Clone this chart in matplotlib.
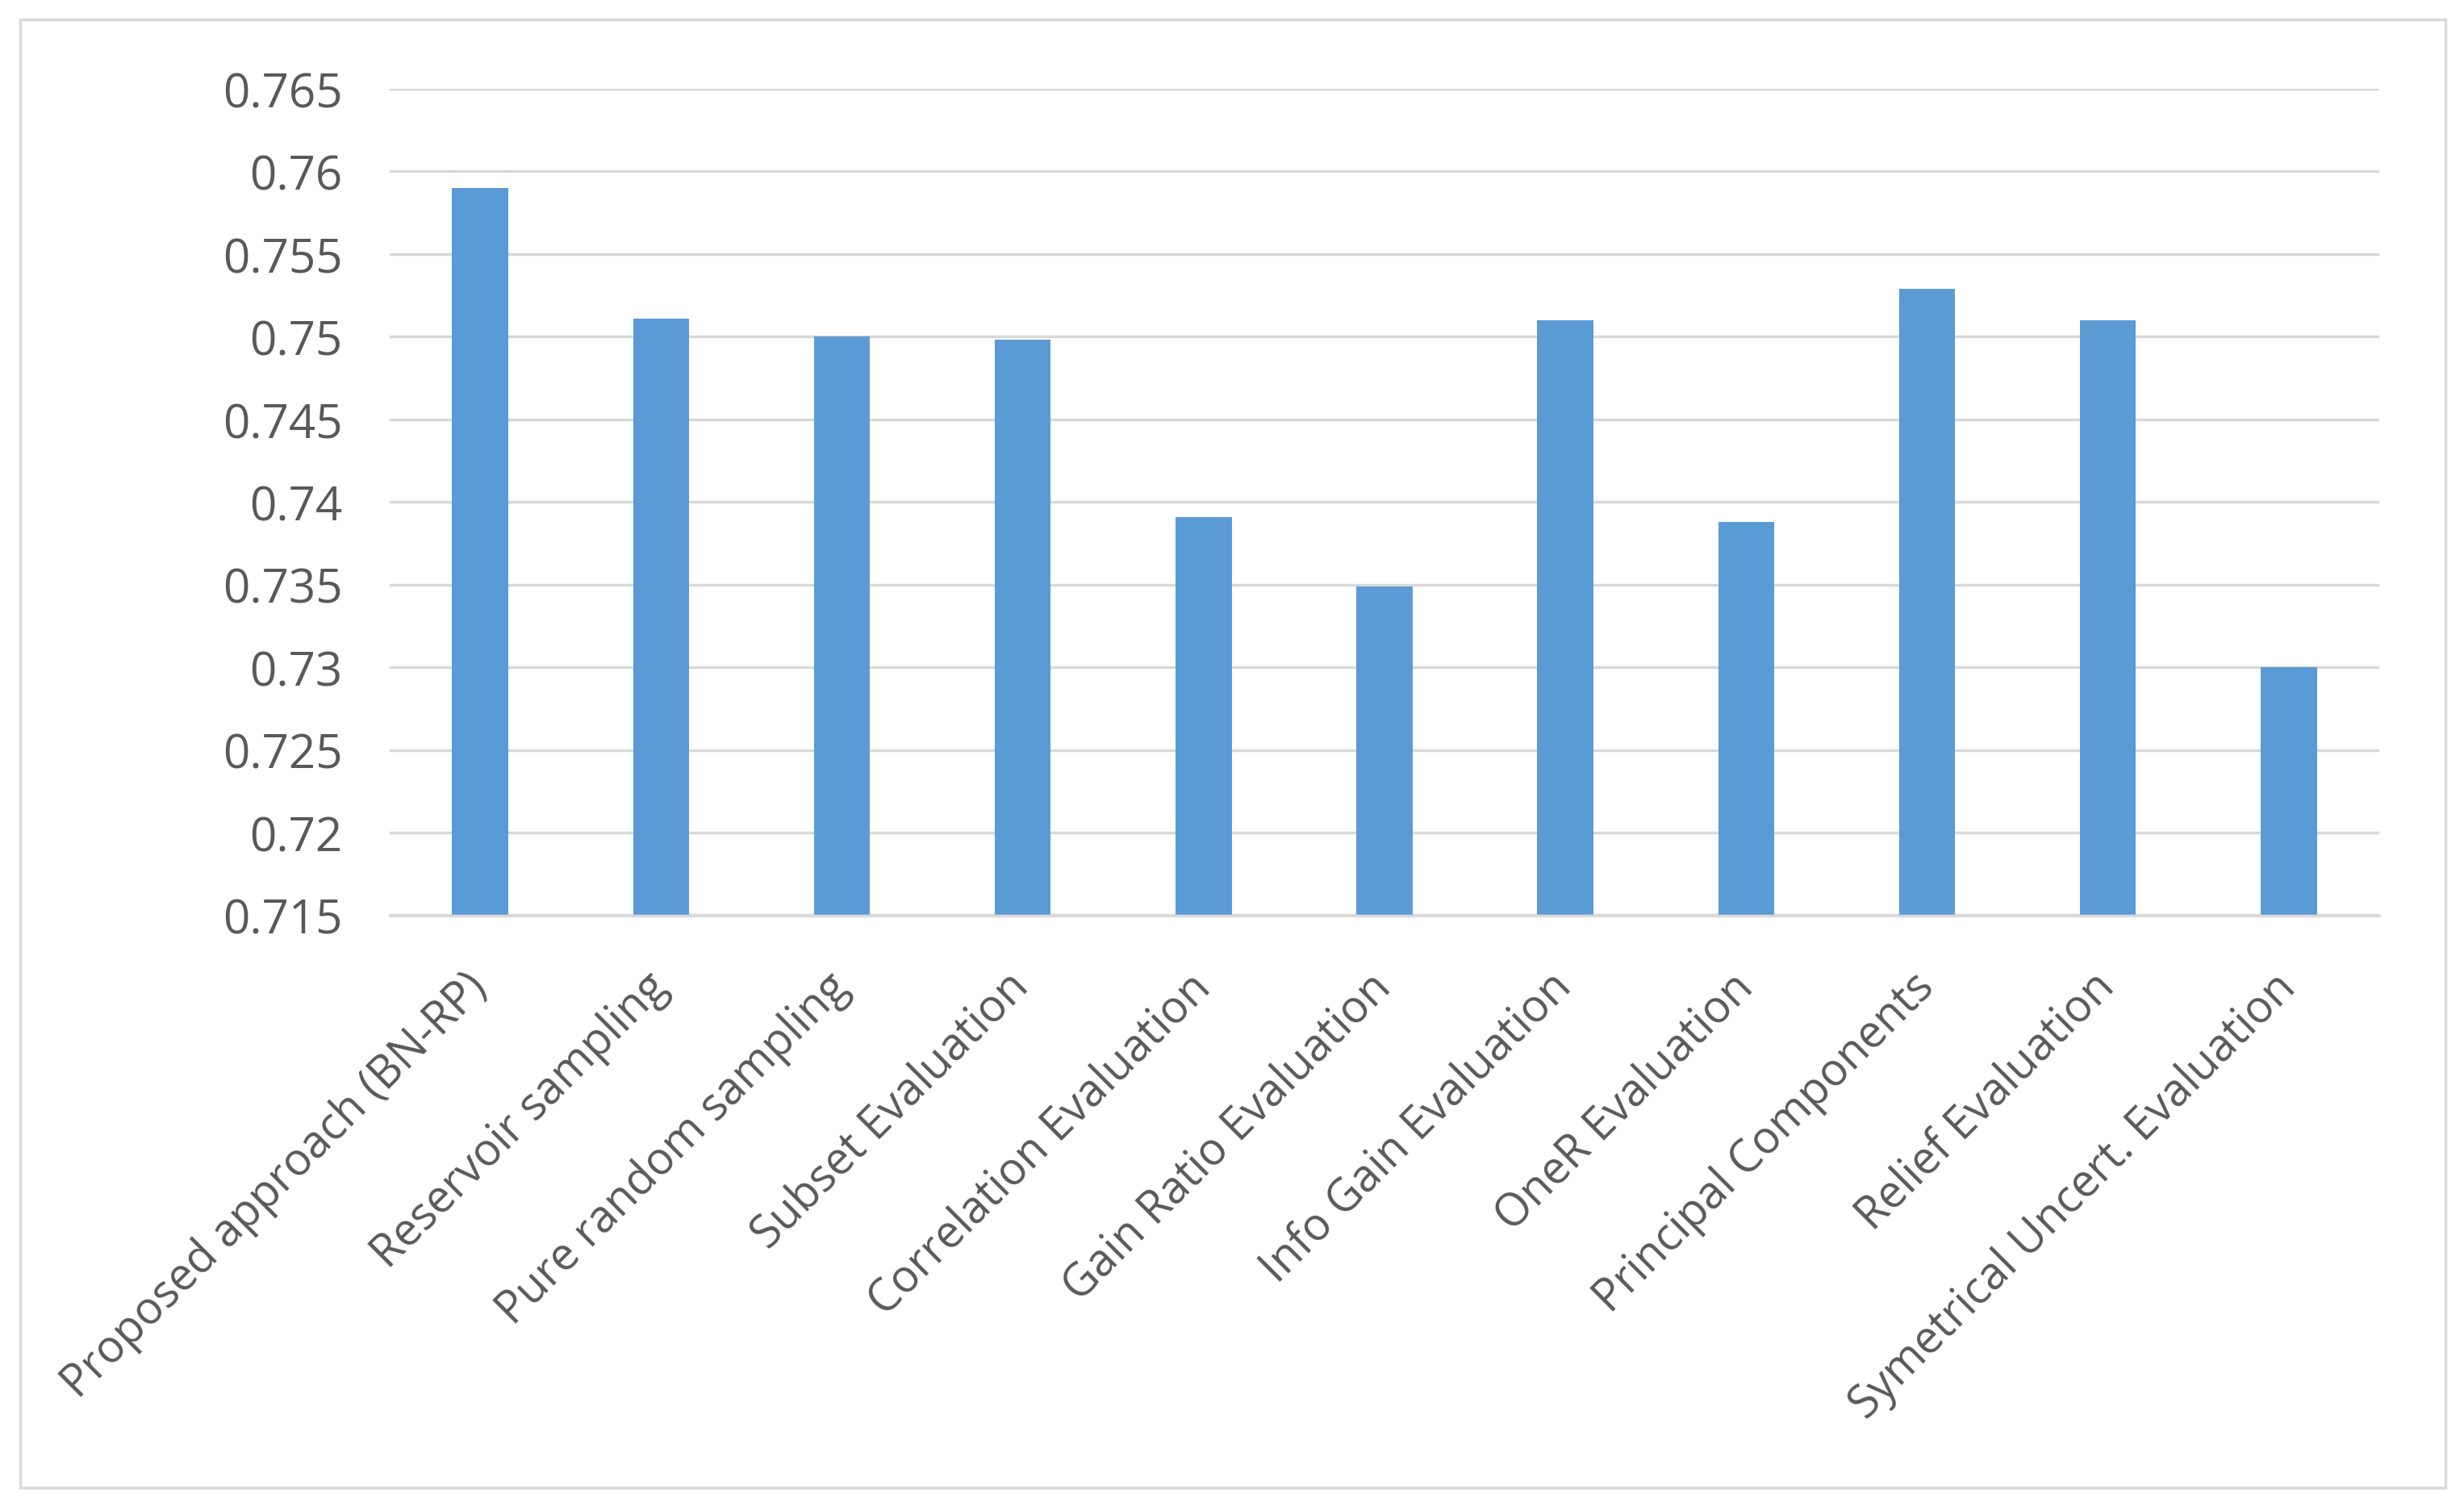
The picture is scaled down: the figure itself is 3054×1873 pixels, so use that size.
import matplotlib
matplotlib.use("Agg")
import matplotlib.pyplot as plt
from matplotlib.patches import Rectangle

categories = [
    "Proposed approach (BN-RP)",
    "Reservoir sampling",
    "Pure random sampling",
    "Subset Evaluation",
    "Correlation Evaluation",
    "Gain Ratio Evaluation",
    "Info Gain Evaluation",
    "OneR Evaluation",
    "Principal Components",
    "Relief Evaluation",
    "Symetrical Uncert. Evaluation",
]
values = [0.759, 0.7511, 0.750, 0.7498, 0.7391, 0.7349, 0.751, 0.7388, 0.7529, 0.751, 0.730]
yticks = [0.715, 0.72, 0.725, 0.73, 0.735, 0.74, 0.745, 0.75, 0.755, 0.76, 0.765]
ytick_labels = ["0.715", "0.72", "0.725", "0.73", "0.735", "0.74", "0.745", "0.75", "0.755", "0.76", "0.765"]

W, H = 3054, 1874
fig = plt.figure(figsize=(W / 100, H / 100), dpi=100)
fig.patch.set_facecolor("white")

left, right = 483 / W, 2949 / W
bottom, top = 1 - 1135.5 / H, 1 - 111 / H
ax = fig.add_axes([left, bottom, right - left, top - bottom])

font = "Open Sans"
txt_color = "#595959"
grid_color = "#D9D9D9"

x = list(range(len(categories)))
ax.bar(x, values, width=0.31, color="#5B9BD5", zorder=3)

ax.set_xlim(-0.5, len(categories) - 0.5)
ax.set_ylim(0.715, 0.765)
ax.set_yticks(yticks)
ax.set_yticklabels(ytick_labels, fontfamily=font, fontsize=42, color=txt_color)
ax.set_xticks(x)
ax.set_xticklabels(categories, rotation=45, ha="right", va="center",
                   rotation_mode="anchor", fontfamily=font, fontsize=40, color=txt_color)
ax.tick_params(axis="x", length=0, pad=58)
ax.tick_params(axis="y", length=0, pad=42)

ax.grid(axis="y", color=grid_color, linewidth=2.5, zorder=0)
ax.grid(axis="x", visible=False)
for s in ["left", "right", "top"]:
    ax.spines[s].set_visible(False)
ax.spines["bottom"].set_color(grid_color)
ax.spines["bottom"].set_linewidth(2.5)
ax.spines["bottom"].set_zorder(4)

# outer chart border
fig.patches.append(Rectangle((25 / W, 1 - 1845 / H), (3031 - 25) / W, (1845 - 25) / H,
                             transform=fig.transFigure, fill=False,
                             edgecolor=grid_color, linewidth=2.5))

fig.savefig("out.png", dpi=100, facecolor="white")
